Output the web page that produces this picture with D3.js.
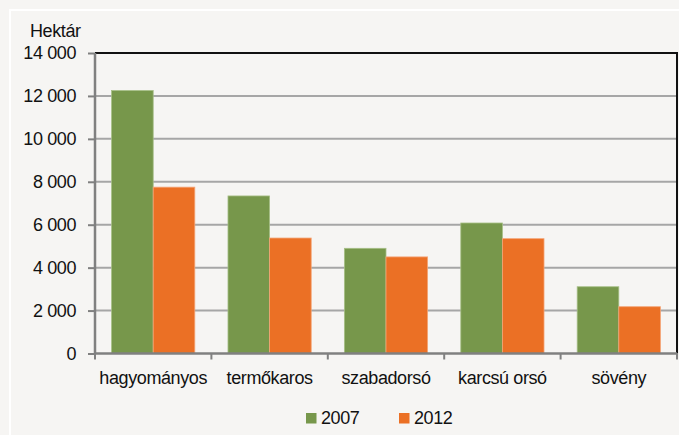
<!DOCTYPE html>
<html>
<head>
<meta charset="utf-8">
<script src="https://cdn.jsdelivr.net/npm/d3@7"></script>
<style>
  body { margin: 0; background: #f6f5f3; }
  svg { display: block; font-family: "Liberation Sans", Arial, sans-serif; }
  svg text { letter-spacing: -0.4px; }
</style>
</head>
<body>
<svg class="chart" width="679" height="435"></svg>
<script>
// data
var categories = ['hagyományos', 'termőkaros', 'szabadorsó', 'karcsú orsó', 'sövény'];
var series = ['2007', '2012'];
var values2007 = [12250, 7340, 4900, 6080, 3110];
var values2012 = [7750, 5380, 4500, 5350, 2180];
var yTicks = [0, 2000, 4000, 6000, 8000, 10000, 12000, 14000];
var colors = ['#77974b', '#eb7025'];

var svg = d3.select('svg.chart');
var svgWidth = +svg.attr('width');
var svgHeight = +svg.attr('height');

var padding = {t: 53, r: 2, b: 81.5, l: 95};
var chartWidth = svgWidth - padding.l - padding.r;
var chartHeight = svgHeight - padding.t - padding.b;
var fontSize = 18;

// white outer frame (cropped by the picture edge)
svg.append('rect')
  .attr('x', 10).attr('y', 10)
  .attr('width', 700).attr('height', 500)
  .attr('fill', 'none')
  .attr('stroke', '#ffffff')
  .attr('stroke-width', 2);

var xScale = d3.scaleBand().domain(categories).range([0, chartWidth]).paddingInner(0.285).paddingOuter(0.1425);
var subScale = d3.scaleBand().domain(series).range([0, xScale.bandwidth()]);
var yScale = d3.scaleLinear().domain([0, 14000]).range([chartHeight, 0]);

var chartG = svg.append('g')
  .attr('transform', 'translate(' + [padding.l, padding.t] + ')');

// gridlines
chartG.append('g')
  .selectAll('line')
  .data(yTicks.slice(1, -1))
  .enter()
  .append('line')
  .attr('x1', 0).attr('x2', chartWidth)
  .attr('y1', function(d) { return yScale(d); })
  .attr('y2', function(d) { return yScale(d); })
  .attr('stroke', '#a6a6a6')
  .attr('stroke-width', 2);

// top and right border
chartG.append('path')
  .attr('d', 'M0,' + yScale(14000) + 'H' + chartWidth + 'V' + yScale(0))
  .attr('fill', 'none')
  .attr('stroke', '#111')
  .attr('stroke-width', 2);

// bars
var table = categories.map(function(c, i) {
  return {cat: c, vals: [values2007[i], values2012[i]]};
});

var groups = chartG.selectAll('g.bars')
  .data(table)
  .enter()
  .append('g')
  .attr('class', 'bars')
  .attr('transform', function(d) { return 'translate(' + xScale(d.cat) + ',0)'; });

groups.selectAll('rect')
  .data(function(d) { return d.vals.map(function(v, j) { return {s: series[j], v: v, j: j}; }); })
  .enter()
  .append('rect')
  .attr('x', function(d) { return subScale(d.s); })
  .attr('width', subScale.bandwidth())
  .attr('y', function(d) { return yScale(d.v); })
  .attr('height', function(d) { return chartHeight - yScale(d.v); })
  .attr('fill', function(d) { return colors[d.j]; })
  .attr('stroke', function(d) { return d.j === 0 ? '#a6bf86' : '#f4a577'; })
  .attr('stroke-width', 0.8);

// y axis
var yAxis = chartG.append('g')
  .call(d3.axisLeft(yScale).tickValues(yTicks).tickSize(7).tickPadding(12)
    .tickFormat(function(d) { return d3.format(',')(d).replace(/,/g, ' '); }));
yAxis.select('.domain').attr('stroke', '#808080').attr('stroke-width', 2.5).attr('d', 'M0,' + yScale(14000) + 'V' + yScale(0));
yAxis.selectAll('.tick line').attr('stroke', '#808080').attr('stroke-width', 2);
yAxis.selectAll('.tick text').attr('font-size', fontSize).attr('fill', '#111').attr('font-family', '"Liberation Sans", Arial, sans-serif');

// x axis
var xAxis = chartG.append('g')
  .attr('transform', 'translate(0,' + chartHeight + ')')
  .call(d3.axisBottom(xScale).tickSize(0).tickPadding(18));
xAxis.select('.domain').attr('stroke', '#808080').attr('stroke-width', 2.5).attr('d', 'M0,0H' + chartWidth);
xAxis.selectAll('.tick text').attr('font-size', fontSize).attr('fill', '#111').attr('font-family', '"Liberation Sans", Arial, sans-serif');

// category separator ticks
var step = xScale.step();
chartG.append('g')
  .selectAll('line')
  .data(d3.range(categories.length + 1))
  .enter()
  .append('line')
  .attr('x1', function(i) { return i * step; })
  .attr('x2', function(i) { return i * step; })
  .attr('y1', chartHeight)
  .attr('y2', chartHeight + 6)
  .attr('stroke', '#808080')
  .attr('stroke-width', 2);

// unit label
svg.append('text')
  .attr('x', 30).attr('y', 37)
  .attr('font-size', fontSize).attr('fill', '#111')
  .text('Hektár');

// legend
var legend = svg.append('g').attr('transform', 'translate(306,413)');
var items = legend.selectAll('g')
  .data(series)
  .enter()
  .append('g')
  .attr('transform', function(d, i) { return 'translate(' + (i * 93) + ',0)'; });
items.append('rect')
  .attr('width', 10.5).attr('height', 10.5)
  .attr('fill', function(d, i) { return colors[i]; });
items.append('text')
  .attr('x', 15).attr('y', 11)
  .attr('font-size', fontSize).attr('fill', '#111')
  .text(function(d) { return d; });
</script>
</body>
</html>
